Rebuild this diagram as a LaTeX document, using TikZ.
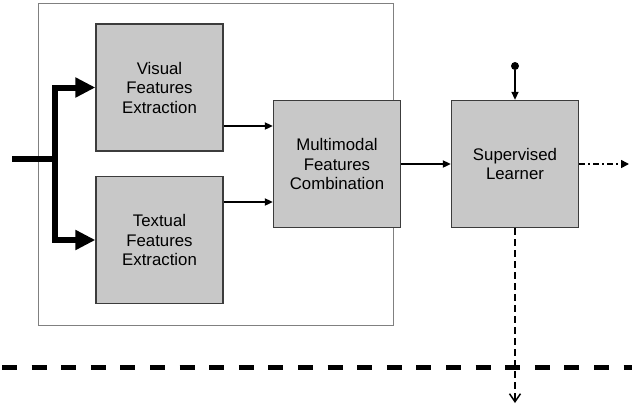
\documentclass[tikz,border=0pt]{standalone}
\usepackage{fontspec}
\setmainfont{Liberation Sans}
\usetikzlibrary{arrows.meta,calc}
\definecolor{boxfill}{HTML}{C8C8C8}
\definecolor{boxedge}{HTML}{3C3C3C}
\definecolor{frameedge}{HTML}{808080}
\tikzset{
  stage/.style={draw=boxedge, line width=1.3pt, fill=boxfill,
    minimum width=127pt, minimum height=127pt, inner sep=0pt,
    align=center, font=\fontsize{16.8pt}{19.5pt}\selectfont},
  link/.style={line width=1.8pt, -{Triangle[length=8pt,width=7pt]}},
  feed/.style={line width=6pt, miter limit=10,
    {Triangle[length=20pt,width=19pt]}-{Triangle[length=20pt,width=19pt]}},
  probe/.style={line width=1.4pt, -{Triangle[length=8pt,width=7pt]}},
  sideout/.style={line width=1.6pt, dash pattern=on 6pt off 3pt on 2pt off 3pt,
    -{Triangle[length=8pt,width=8pt]}},
  downout/.style={line width=1.6pt, dash pattern=on 7pt off 4pt,
    -{Straight Barb[length=8pt,width=11pt,line width=1.5pt]}},
  divider/.style={line width=5pt, dash pattern=on 15pt off 14.6pt}
}
\begin{document}
\begin{tikzpicture}[x=1pt,y=-1pt]
  \useasboundingbox (0,0) rectangle (632,408);

  % enclosing frame of the feature extraction stage
  \draw[frameedge, line width=0.9pt] (38,3) rectangle (393,325);

  % processing blocks
  \node[stage] (vis) at (159.5,87.5) {Visual\\Features\\Extraction};
  \node[stage] (txt) at (159.5,240) {Textual\\Features\\Extraction};
  \node[stage] (mm)  at (337,164)   {Multimodal\\Features\\Combination};
  \node[stage] (sl)  at (515,164)   {Supervised\\Learner};

  % input split into the two extractors
  \coordinate (split) at (55,159);
  \coordinate (inp) at (12,159);
  \draw[line width=6pt] (inp) -- ([xshift=3pt]split);
  \draw[feed] (vis.west) -| (split) |- (txt.west);

  % extractors into the combination block
  \draw[link] ([yshift=38pt]mm.west -| vis.east) -- ([yshift=38pt]mm.west);
  \draw[link] ([yshift=-38pt]mm.west -| txt.east) -- ([yshift=-38pt]mm.west);

  % combination into the learner
  \draw[link] (mm.east) -- (sl.west);

  % learner inputs and outputs
  \node[circle, fill=black, inner sep=0pt, minimum size=8pt] (src) at (515,66) {};
  \draw[probe] (src) -- (sl.north);
  \coordinate (outr) at (629,164);
  \draw[sideout] (sl.east) -- (outr);
  \coordinate (outd) at (515,403);
  \draw[downout] (sl.south) -- (outd);

  % horizontal separator
  \coordinate (sepl) at (2,367);
  \coordinate (sepr) at (632,367);
  \draw[divider] (sepl) -- (sepr);
\end{tikzpicture}
\end{document}
